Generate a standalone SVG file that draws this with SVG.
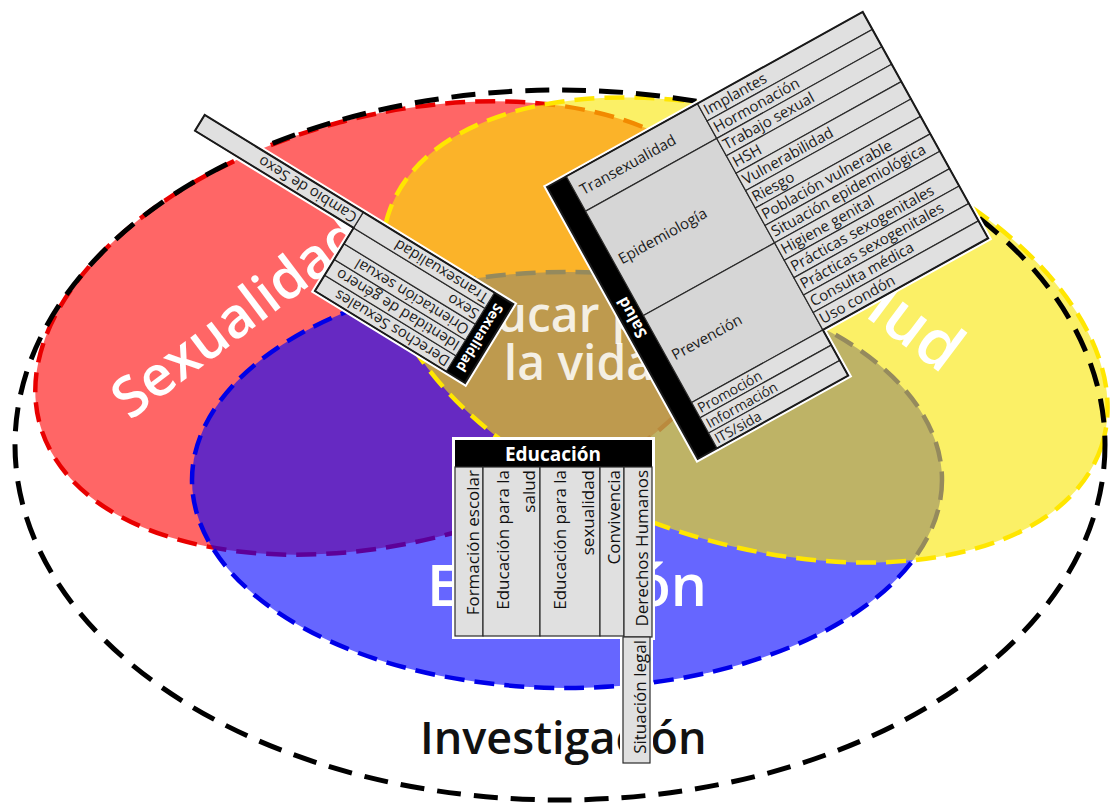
<svg xmlns="http://www.w3.org/2000/svg" width="1111" height="809" viewBox="0 0 1111 809">
<style>
.big{font-family:"Open Sans","Liberation Sans",sans-serif;font-weight:600;fill:#fff}
.c{fill:#e0e0e0;stroke:#2a2a2a;stroke-width:1.2}
.c2{fill:#d6d6d6;stroke:#2a2a2a;stroke-width:1.2}
.t{font-family:"Open Sans","Liberation Sans",sans-serif;font-size:15px;fill:#1a1a1a}
.ts{font-family:"Open Sans","Liberation Sans",sans-serif;font-size:14px;fill:#1a1a1a}
.te{font-family:"Open Sans","Liberation Sans",sans-serif;font-size:17px;fill:#111}
.ht{font-family:"Open Sans","Liberation Sans",sans-serif;font-weight:700;fill:#fff}
.halo{fill:none;stroke:#fff;stroke-width:6;stroke-linejoin:miter}
.edge{fill:none;stroke:#1a1a1a;stroke-width:2}
</style>
<rect width="1111" height="809" fill="#fff"/>
<g id="sexualidad-area">
<ellipse cx="395" cy="328" rx="368" ry="213" transform="rotate(-15 395 328)" fill="#ff0000" fill-opacity="0.6" stroke="#e80000" stroke-width="4.5" stroke-dasharray="20 10"/>
</g>
<g id="educacion-area">
<ellipse cx="567" cy="480" rx="375" ry="208" fill="#0000ff" fill-opacity="0.6" stroke="#0000e8" stroke-width="4.5" stroke-dasharray="20 10"/>
</g>
<g id="salud-area">
<ellipse cx="745" cy="330" rx="375" ry="212" transform="rotate(18 745 330)" fill="#f8e600" fill-opacity="0.6" stroke="#ffe600" stroke-width="4.5" stroke-dasharray="20 10"/>
</g>
<g id="investigacion">
<ellipse cx="560" cy="445" rx="545" ry="355" fill="none" stroke="#000" stroke-width="5" stroke-dasharray="24 13"/>
<text class="big" x="420" y="754" font-size="45" style="fill:#111">Investigación</text>
</g>
<g id="labels">
<text class="big" transform="translate(130 421) rotate(-37)" font-size="56">Sexualidad</text>
<text class="big" transform="translate(806 272) rotate(37)" font-size="64">Salud</text>
<text class="big" x="427" y="606" font-size="57">Educación</text>
<text id="centro" class="big" font-size="48" text-anchor="middle" fill-opacity="0.85"><tspan x="579" y="332">Educar para</tspan><tspan x="579" y="380">la vida</tspan></text>
</g>
<g id="tabla-sexualidad" transform="translate(465 383) rotate(211.5)">
<path class="halo" d="M0,0 H176 V74 H362 V92.5 H0 Z"/>
<rect x="0" y="0" width="22" height="92.5" fill="#000"/>
<rect class="c" x="22" y="0" width="154" height="18.5"/>
<rect class="c" x="22" y="18.5" width="154" height="18.5"/>
<rect class="c" x="22" y="37" width="154" height="18.5"/>
<rect class="c" x="22" y="55.5" width="154" height="18.5"/>
<rect class="c" x="22" y="74" width="154" height="18.5"/>
<rect class="c" x="176" y="74" width="186" height="18.5"/>
<path class="edge" d="M0,0 H176 V74 H362 V92.5 H0 Z"/>
<text class="t" x="25" y="14">Derechos Sexuales</text>
<text class="t" x="25" y="32.5">Identidad de género</text>
<text class="t" x="25" y="51">Orientación sexual</text>
<text class="t" x="25" y="69.5">Sexo</text>
<text class="t" x="25" y="88">Transexualidad</text>
<text class="t" x="179" y="88">Cambio de Sexo</text>
<text class="ht" font-size="14" text-anchor="middle" transform="translate(16 46.25) rotate(-90)">Sexualidad</text>
</g>
<g id="tabla-salud" transform="translate(547 187) rotate(-29)">
<path class="halo" d="M0,0 H361 V258.7 H172 V311 H0 Z"/>
<rect x="0" y="0" width="22" height="311" fill="#000"/>
<rect class="c2" x="22" y="0" width="150" height="39.8"/>
<rect class="c2" x="22" y="39.8" width="150" height="119.4"/>
<rect class="c2" x="22" y="159.2" width="150" height="99.5"/>
<rect class="c" x="22" y="258.7" width="150" height="17.4"/>
<rect class="c" x="22" y="276.1" width="150" height="17.5"/>
<rect class="c" x="22" y="293.6" width="150" height="17.4"/>
<rect class="c" x="172" y="0" width="189" height="19.9"/>
<rect class="c" x="172" y="19.9" width="189" height="19.9"/>
<rect class="c" x="172" y="39.8" width="189" height="19.9"/>
<rect class="c" x="172" y="59.7" width="189" height="19.9"/>
<rect class="c" x="172" y="79.6" width="189" height="19.9"/>
<rect class="c" x="172" y="99.5" width="189" height="19.9"/>
<rect class="c" x="172" y="119.4" width="189" height="19.9"/>
<rect class="c" x="172" y="139.3" width="189" height="19.9"/>
<rect class="c" x="172" y="159.2" width="189" height="19.9"/>
<rect class="c" x="172" y="179.1" width="189" height="19.9"/>
<rect class="c" x="172" y="199" width="189" height="19.9"/>
<rect class="c" x="172" y="218.9" width="189" height="19.9"/>
<rect class="c" x="172" y="238.8" width="189" height="19.9"/>
<path class="edge" d="M0,0 H361 V258.7 H172 V311 H0 Z"/>
<text class="t" x="28" y="25">Transexualidad</text>
<text class="t" x="28" y="104">Epidemiología</text>
<text class="t" x="28" y="214">Prevención</text>
<text class="ts" x="25" y="272.5">Promoción</text>
<text class="ts" x="25" y="290">Información</text>
<text class="ts" x="25" y="307.5">ITS/sida</text>
<text class="t" x="175" y="15">Implantes</text>
<text class="t" x="175" y="34.9">Hormonación</text>
<text class="t" x="175" y="54.8">Trabajo sexual</text>
<text class="t" x="175" y="74.7">HSH</text>
<text class="t" x="175" y="94.6">Vulnerabilidad</text>
<text class="t" x="175" y="114.5">Riesgo</text>
<text class="t" x="175" y="134.4">Población vulnerable</text>
<text class="t" x="175" y="154.3">Situación epidemiológica</text>
<text class="t" x="175" y="174.2">Higiene genital</text>
<text class="t" x="175" y="194.1">Prácticas sexogenitales</text>
<text class="t" x="175" y="214">Prácticas sexogenitales</text>
<text class="t" x="175" y="233.9">Consulta médica</text>
<text class="t" x="175" y="253.8">Uso condón</text>
<text class="ht" font-size="16" text-anchor="middle" transform="translate(16.5 155.5) rotate(-90)">Salud</text>
</g>
<g id="tabla-educacion">
<path class="halo" d="M455,440 H652 V637 H650 V763 H623 V636 H455 Z"/>
<rect x="455" y="440" width="197" height="27" fill="#000"/>
<rect class="c" x="455" y="467" width="28" height="169"/>
<rect class="c" x="483" y="467" width="57" height="169"/>
<rect class="c" x="540" y="467" width="60" height="169"/>
<rect class="c" x="600" y="467" width="24" height="169"/>
<rect class="c" x="624" y="467" width="28" height="170"/>
<rect class="c" x="623" y="637" width="27" height="126"/>
<text class="ht" x="553" y="461" font-size="19" text-anchor="middle">Educación</text>
<text class="te" text-anchor="end" transform="translate(479 470) rotate(-90)">Formación escolar</text>
<text class="te" text-anchor="end" transform="translate(509 470) rotate(-90)">Educación para la</text>
<text class="te" text-anchor="end" transform="translate(535 470) rotate(-90)">salud</text>
<text class="te" text-anchor="end" transform="translate(566 470) rotate(-90)">Educación para la</text>
<text class="te" text-anchor="end" transform="translate(594 470) rotate(-90)">sexualidad</text>
<text class="te" text-anchor="end" transform="translate(620 470) rotate(-90)">Convivencia</text>
<text class="te" text-anchor="end" transform="translate(648 470) rotate(-90)">Derechos Humanos</text>
<text class="te" text-anchor="end" transform="translate(646 640) rotate(-90)">Situación legal</text>
</g>
</svg>
